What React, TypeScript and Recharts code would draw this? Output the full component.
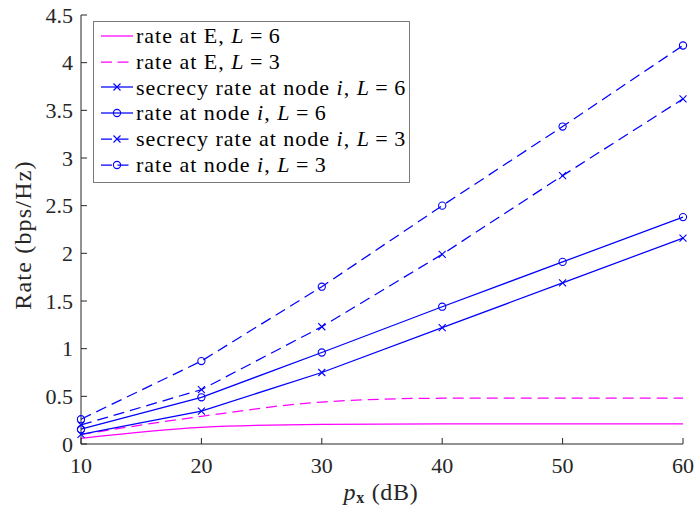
import React from 'react';
import { Line, LineChart, XAxis, YAxis } from 'recharts';

// p_x (dB)
const px = [10, 20, 30, 40, 50, 60];
// Rate (bps/Hz)
const rateEL6 = [0.06, 0.175, 0.205, 0.21, 0.21, 0.21];
const rateEL3 = [0.1, 0.29, 0.44, 0.48, 0.48, 0.48];
const secrecyL6 = [0.1, 0.345, 0.75, 1.22, 1.69, 2.16];
const rateNodeL6 = [0.155, 0.49, 0.96, 1.44, 1.91, 2.38];
const secrecyL3 = [0.2, 0.57, 1.23, 1.99, 2.815, 3.62];
const rateNodeL3 = [0.26, 0.87, 1.65, 2.5, 3.33, 4.18];

const xTicks = [10, 20, 30, 40, 50, 60];
const yTicks = [0, 0.5, 1, 1.5, 2, 2.5, 3, 3.5, 4, 4.5];

const data = px.map((x, i) => ({
  x,
  eL6: rateEL6[i],
  eL3: rateEL3[i],
  sL6: secrecyL6[i],
  nL6: rateNodeL6[i],
  sL3: secrecyL3[i],
  nL3: rateNodeL3[i],
}));

const BLUE = '#0000ff';
const MAGENTA = '#ff00ff';
const AXIS = '#262626';
const FONT = 'Liberation Serif';
const DASH = '11 6';
const LW = 1.25;

// plot box (matches chart margins below)
const W = 694;
const H = 514;
const PL = 81;
const PR = 683;
const PT = 15;
const PB = 444;
const TICK = 6;

type Marker = 'none' | 'x' | 'o';

const series: { key: string; name: string; color: string; dash?: string; marker: Marker; curve: 'linear' | 'monotone' }[] = [
  { key: 'eL6', name: 'rate at E, L = 6', color: MAGENTA, marker: 'none', curve: 'monotone' },
  { key: 'eL3', name: 'rate at E, L = 3', color: MAGENTA, dash: DASH, marker: 'none', curve: 'monotone' },
  { key: 'sL6', name: 'secrecy rate at node i, L = 6', color: BLUE, marker: 'x', curve: 'linear' },
  { key: 'nL6', name: 'rate at node i, L = 6', color: BLUE, marker: 'o', curve: 'linear' },
  { key: 'sL3', name: 'secrecy rate at node i, L = 3', color: BLUE, dash: DASH, marker: 'x', curve: 'linear' },
  { key: 'nL3', name: 'rate at node i, L = 3', color: BLUE, dash: DASH, marker: 'o', curve: 'linear' },
];

function markerShape(kind: Marker, cx: number, cy: number, color: string, k?: React.Key) {
  if (kind === 'x') {
    const s = 3.5;
    return (
      <path
        key={k}
        d={`M${cx - s},${cy - s}L${cx + s},${cy + s}M${cx - s},${cy + s}L${cx + s},${cy - s}`}
        stroke={color}
        strokeWidth={1.1}
        fill="none"
      />
    );
  }
  if (kind === 'o') {
    return <circle key={k} cx={cx} cy={cy} r={3.6} stroke={color} strokeWidth={1.1} fill="none" />;
  }
  return <g key={k} />;
}

const fmt = (v: number) => String(v);
const txt: React.CSSProperties = { fontFamily: FONT };

const BottomTick = (p: any) => (
  <g>
    <line x1={p.x} x2={p.x} y1={PB} y2={PB - TICK} stroke={AXIS} strokeWidth={1} />
    <text x={p.x} y={PB + 21} textAnchor="middle" dominantBaseline="central" style={txt} fontSize={22} fill={AXIS}>
      {fmt(p.payload.value)}
    </text>
  </g>
);
const TopTick = (p: any) => (
  <line x1={p.x} x2={p.x} y1={PT} y2={PT + TICK} stroke={AXIS} strokeWidth={1} />
);
const LeftTick = (p: any) => (
  <g>
    <line x1={PL} x2={PL + TICK} y1={p.y} y2={p.y} stroke={AXIS} strokeWidth={1} />
    <text x={PL - 8} y={p.y} textAnchor="end" dominantBaseline="central" style={txt} fontSize={22} fill={AXIS}>
      {fmt(p.payload.value)}
    </text>
  </g>
);
const RightTick = (p: any) => (
  <line x1={PR} x2={PR - TICK} y1={p.y} y2={p.y} stroke={AXIS} strokeWidth={1} />
);

function mathLabel(name: string) {
  return name.split(/\b(L|i)\b/).map((part, i) =>
    part === 'L' || part === 'i' ? (
      <i key={i}>{part}</i>
    ) : (
      <span key={i}>{part.replace(/ = /g, '\u2009=\u2009')}</span>
    )
  );
}

const LegendBox = () => (
  <div
    style={{
      position: 'absolute',
      left: 93,
      top: 21,
      width: 315,
      height: 159,
      border: '1px solid #7a7a7a',
      background: '#fff',
      paddingTop: 1,
      fontFamily: FONT,
      fontSize: 22,
      letterSpacing: 1,
      color: '#000',
    }}
  >
    {series.map((s) => (
      <div key={s.key} style={{ display: 'flex', alignItems: 'center', height: 25.8, whiteSpace: 'nowrap' }}>
        <svg width={42} height={20} style={{ flex: 'none' }}>
          <line x1={7} x2={39} y1={10} y2={10} stroke={s.color} strokeWidth={LW} strokeDasharray={s.dash ? '11 5.5' : undefined} />
          {markerShape(s.marker, 23, 10, s.color)}
        </svg>
        <span>{mathLabel(s.name)}</span>
      </div>
    ))}
  </div>
);

export default function App() {
  return (
    <div style={{ position: 'absolute', left: 0, top: 0, width: W, height: H, background: '#fff', fontFamily: FONT }}>
      <LineChart
        width={W}
        height={H}
        data={data}
        margin={{ top: PT, right: W - PR, bottom: 0, left: 0 }}
        style={{ fontFamily: FONT }}
      >
        <XAxis
          dataKey="x"
          type="number"
          domain={[10, 60]}
          ticks={xTicks}
          height={H - PB}
          tickLine={false}
          tickSize={0}
          axisLine={{ stroke: AXIS }}
          tick={BottomTick}
          interval={0}
        />
        <XAxis
          xAxisId="top"
          orientation="top"
          dataKey="x"
          type="number"
          domain={[10, 60]}
          ticks={xTicks}
          height={0}
          tickLine={false}
          tickSize={0}
          axisLine={{ stroke: AXIS }}
          tick={TopTick}
          interval={0}
        />
        <YAxis
          type="number"
          domain={[0, 4.5]}
          ticks={yTicks}
          width={PL}
          tickLine={false}
          tickSize={0}
          axisLine={{ stroke: AXIS }}
          tick={LeftTick}
          interval={0}
        />
        <YAxis
          yAxisId="right"
          orientation="right"
          type="number"
          domain={[0, 4.5]}
          ticks={yTicks}
          width={0}
          tickLine={false}
          tickSize={0}
          axisLine={{ stroke: AXIS }}
          tick={RightTick}
          interval={0}
        />
        {series.map((s) => (
          <Line
            key={s.key}
            dataKey={s.key}
            name={s.name}
            type={s.curve}
            stroke={s.color}
            strokeWidth={LW}
            strokeDasharray={s.dash}
            dot={(d: any) => markerShape(s.marker, d.cx, d.cy, s.color, d.index)}
            activeDot={false}
            isAnimationActive={false}
          />
        ))}
        <text
          x={381}
          y={492}
          textAnchor="middle"
          dominantBaseline="central"
          style={txt}
          fontSize={24}
          letterSpacing={0.7}
          fill={AXIS}
        >
          <tspan fontStyle="italic">p</tspan>
          <tspan fontWeight="bold" fontSize={16} dy={5}>x</tspan>
          <tspan dy={-5}> (dB)</tspan>
        </text>
        <text
          x={23}
          y={235}
          transform="rotate(-90 23 235)"
          textAnchor="middle"
          dominantBaseline="central"
          style={txt}
          fontSize={24}
          letterSpacing={1.2}
          fill={AXIS}
        >
          Rate (bps/Hz)
        </text>
      </LineChart>
      <LegendBox />
    </div>
  );
}
